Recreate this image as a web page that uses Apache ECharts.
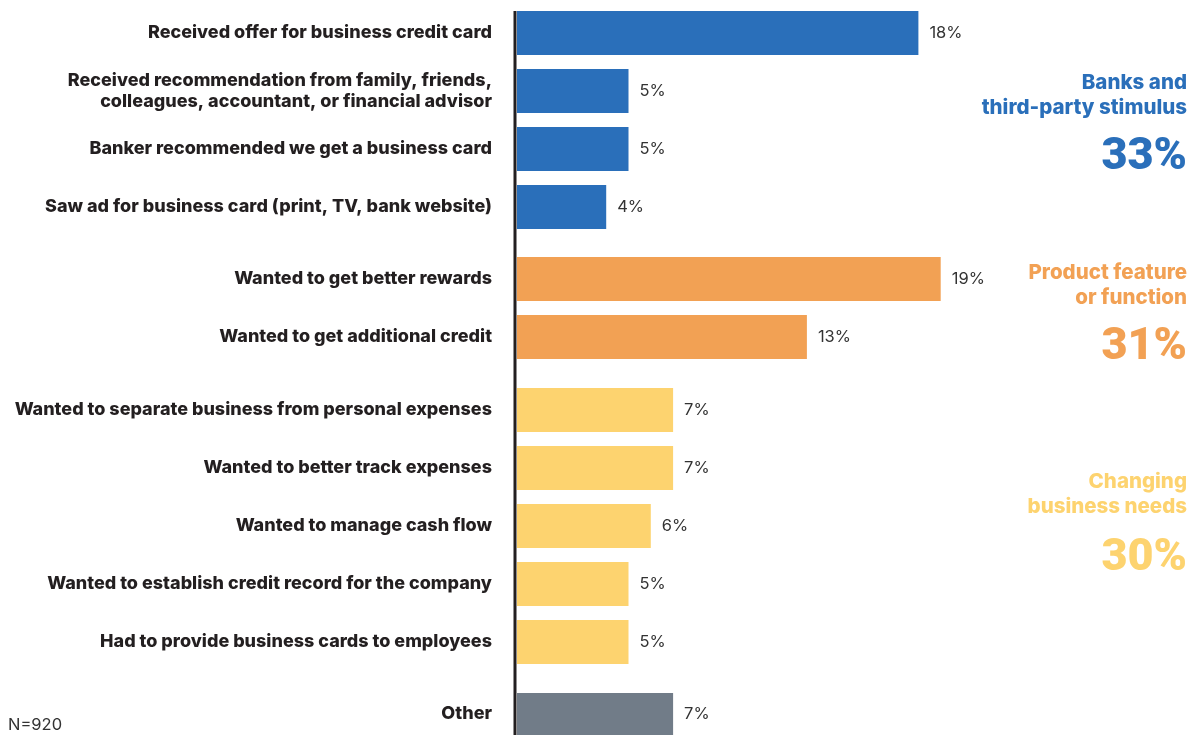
<!DOCTYPE html>
<html><head><meta charset="utf-8">
<script src="https://cdn.jsdelivr.net/npm/echarts@6/dist/echarts.min.js"></script>
<style>html,body{margin:0;padding:0;background:#fff}#c{width:1198px;height:735px}</style>
</head><body><div id="c"></div>
<script>
const groupBanks = ["Received offer for business credit card","Received recommendation from family, friends,\ncolleagues, accountant, or financial advisor","Banker recommended we get a business card","Saw ad for business card (print, TV, bank website)"];
const valuesBanks = [18,5,5,4];
const groupProduct = ["Wanted to get better rewards","Wanted to get additional credit"];
const valuesProduct = [19,13];
const groupNeeds = ["Wanted to separate business from personal expenses","Wanted to better track expenses","Wanted to manage cash flow","Wanted to establish credit record for the company","Had to provide business cards to employees"];
const valuesNeeds = [7,7,6,5,5];
const groupOther = ["Other"];
const valuesOther = [7];
const groupTitles = ["Banks and\nthird-party stimulus","Product feature\nor function","Changing\nbusiness needs"];
const groupTotals = ["33%","31%","30%"];
const sampleNote = "N=920";

const colors = ["#2a6fba","#f2a154","#fdd36f","#717c88"];
const FONT = "Inter, 'Noto Sans', sans-serif";
const groups = [
  {cats: groupBanks, vals: valuesBanks, top: 4, band: 58},
  {cats: groupProduct, vals: valuesProduct, top: 250, band: 58},
  {cats: groupNeeds, vals: valuesNeeds, top: 381, band: 58},
  {cats: groupOther, vals: valuesOther, top: 693, band: 44}
];
const grid = [], xAxis = [], yAxis = [], series = [];
groups.forEach((g, i) => {
  grid.push({left: 517, right: 12, top: g.top, height: g.band * g.cats.length});
  xAxis.push({type: 'value', gridIndex: i, min: 0, max: 30, show: false});
  yAxis.push({type: 'category', gridIndex: i, data: g.cats, inverse: true,
    axisLine: {show: false}, axisTick: {show: false},
    axisLabel: {margin: 25, color: '#231f20', fontFamily: FONT, fontWeight: 800, fontSize: 18, lineHeight: 21, align: 'right'}});
  series.push({type: 'bar', xAxisIndex: i, yAxisIndex: i, data: g.vals, barWidth: 44,
    itemStyle: {color: colors[i]}, silent: true,
    label: {show: true, position: 'right', distance: 11, formatter: '{c}%', color: '#333', fontFamily: FONT, fontSize: 16.5}});
});

const titleTops = [70, 260, 469];
const pctTops = [135, 325, 536];
const graphic = [
  {type: 'line', shape: {x1: 515, y1: 11, x2: 515, y2: 735}, style: {stroke: '#231f20', lineWidth: 3}, z: 10},
  {type: 'text', style: {x: 8, y: 717, text: sampleNote, fill: '#333', font: '16.5px ' + FONT}}
];
groupTitles.forEach((t, i) => {
  graphic.push({type: 'text',
    style: {x: 1187, y: titleTops[i], text: t, fill: colors[i], font: '800 20.5px ' + FONT, align: 'right', lineHeight: 25}});
  graphic.push({type: 'text',
    style: {x: 1187, y: pctTops[i], text: groupTotals[i], fill: colors[i], font: '900 45px Roboto, ' + FONT, align: 'right'}});
});

const chart = echarts.init(document.getElementById('c'));
chart.setOption({animation: false, grid, xAxis, yAxis, series, graphic});
</script></body></html>
